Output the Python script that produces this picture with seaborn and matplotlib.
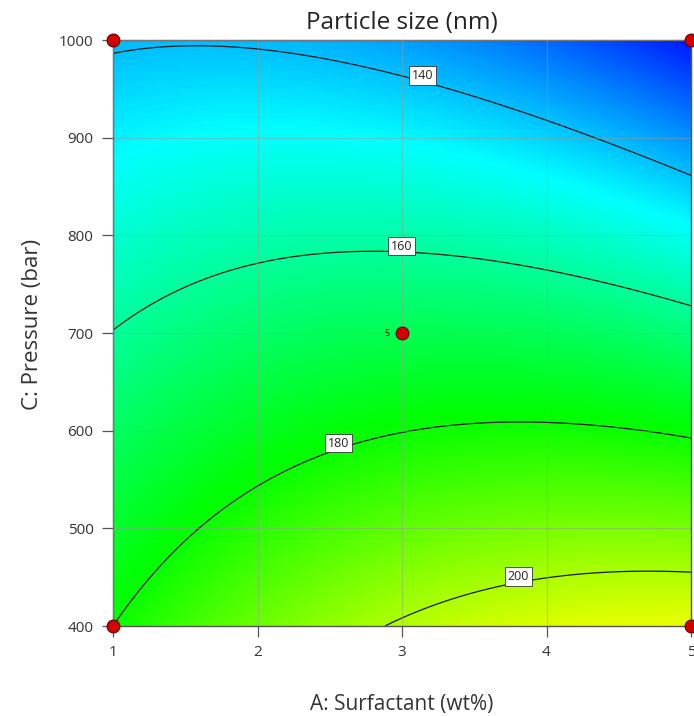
import numpy as np
import pandas as pd
import matplotlib
matplotlib.use("Agg")
import matplotlib.pyplot as plt
from matplotlib.colors import LinearSegmentedColormap
import seaborn as sns

# ---------------- data ----------------
title = "Particle size (nm)"
x_label = "A: Surfactant (wt%)"
y_label = "C: Pressure (bar)"
x_ticks = [1, 2, 3, 4, 5]
y_ticks = [400, 500, 600, 700, 800, 900, 1000]

# quadratic response-surface model in coded units
coef_names = ["Intercept", "A", "C", "AC", "A2", "C2"]
coef_values = [169.05, 1.97, -32.5, -12.0, -6.88, -0.7]
A_low, A_high = 1, 5
C_low, C_high = 400, 1000

contour_levels = [140, 160, 180, 200]
label_spots_A = [3.15, 3.0, 2.55, 3.8]
label_spots_C = [962, 785, 585, 450]

design_A = [1, 1, 5, 5, 3]
design_C = [400, 1000, 400, 1000, 700]
design_runs = ["", "", "", "", "5"]

color_min, color_max = 116, 242
color_stops = ["#0000ff", "#00ffff", "#00ff00", "#ffff00", "#ff0000"]

# ---------------- figure ----------------
sns.set_theme(style="white")
plt.rcParams["font.family"] = ["Open Sans", "DejaVu Sans"]

fig = plt.figure(figsize=(6.94, 7.16), dpi=100)
ax = fig.add_axes([113 / 694, 90 / 716, 578 / 694, 586 / 716])

coef = dict(zip(coef_names, coef_values))
a = np.linspace(A_low, A_high, 400)
c = np.linspace(C_low, C_high, 400)
AA, CC = np.meshgrid(a, c)
u = (AA - (A_low + A_high) / 2) / ((A_high - A_low) / 2)
z = (CC - (C_low + C_high) / 2) / ((C_high - C_low) / 2)
Y = (coef["Intercept"] + coef["A"] * u + coef["C"] * z + coef["AC"] * u * z
     + coef["A2"] * u ** 2 + coef["C2"] * z ** 2)

cmap = LinearSegmentedColormap.from_list("de", color_stops)
ax.imshow(Y, origin="lower", extent=[A_low, A_high, C_low, C_high], aspect="auto",
          cmap=cmap, vmin=color_min, vmax=color_max, interpolation="bilinear", zorder=0)

ax.grid(True, color="#9a9a9a", alpha=0.5, linewidth=0.8, zorder=1)
ax.set_axisbelow(False)

cs = ax.contour(AA, CC, Y, levels=contour_levels, colors="#1a1a1a", linewidths=0.9, zorder=2)
labels = ax.clabel(cs, fmt="%d", fontsize=9, inline=False,
                   manual=list(zip(label_spots_A, label_spots_C)))
for t in labels:
    t.set_rotation(0)
    x0, y0 = t.get_position()
    t.set_position((x0, y0 + 6))
    t.set_bbox(dict(facecolor="white", edgecolor="#333333", pad=2.0, linewidth=0.6))
    t.set_color("#222222")
    t.set_zorder(5)

df = pd.DataFrame({"A": design_A, "C": design_C, "runs": design_runs})
sns.scatterplot(data=df, x="A", y="C", ax=ax, s=85, color="#d40000",
                edgecolor="#5a0000", linewidth=0.8, zorder=6, clip_on=False, legend=False)
for _, r in df.iterrows():
    if r["runs"]:
        ax.annotate(r["runs"], (r["A"], r["C"]), xytext=(-9, 0), textcoords="offset points",
                    fontsize=6.5, color="#222222", ha="right", va="center", zorder=7)

ax.set_xlim(A_low, A_high)
ax.set_ylim(C_low, C_high)
ax.set_xticks(x_ticks)
ax.set_yticks(y_ticks)
ax.tick_params(axis="both", direction="out", length=8, width=0.9, color="#555555",
               labelsize=11, labelcolor="#333333", pad=6)
ax.tick_params(axis="both", bottom=True, left=True)
for sp in ax.spines.values():
    sp.set_color("#555555")
    sp.set_linewidth(1.0)

ax.set_title(title, fontsize=17.5, color="#222222", pad=8)
ax.set_xlabel(x_label, fontsize=15, color="#333333", labelpad=24)
ax.set_ylabel(y_label, fontsize=16, color="#333333")
ax.yaxis.set_label_coords(-0.121, 0.515)

fig.savefig("out.png", dpi=100)
